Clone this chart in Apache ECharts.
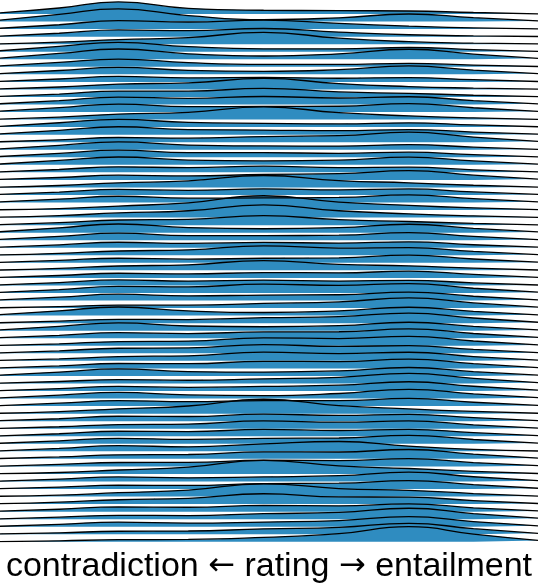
<!DOCTYPE html>
<html>
<head>
<meta charset="utf-8">
<script src="https://cdn.jsdelivr.net/npm/echarts@6/dist/echarts.min.js"></script>
<style>
html,body{margin:0;padding:0;background:#fff;}
#chart{width:538px;height:586px;}
</style>
</head>
<body>
<div id="chart"></div>
<script>
// rating positions (0 = contradiction, 100 = entailment) at which each density is read
const ratingGrid = [0, 11, 22, 35, 49, 63, 76, 88, 100];

// density heights per item (top row first), in units of row spacing
const ridgeDensities = [
  [0.15,0.80,1.60,0.75,0.50,0.45,0.40,0.20,0.03],
  [0.18,0.96,1.67,0.79,0.26,0.50,1.00,0.51,0.09],
  [0.11,0.58,1.12,0.94,1.20,0.75,0.40,0.15,0.03],
  [0.08,0.45,0.89,0.79,1.08,0.60,0.25,0.09,0.02],
  [0.05,0.26,0.61,0.86,1.57,0.79,0.33,0.14,0.03],
  [0.13,0.70,1.25,0.67,0.39,0.38,0.56,0.29,0.05],
  [0.14,0.77,1.36,0.72,0.43,0.72,1.33,0.68,0.12],
  [0.11,0.58,1.02,0.55,0.32,0.31,0.45,0.23,0.04],
  [0.10,0.51,0.92,0.53,0.40,0.62,1.11,0.57,0.10],
  [0.07,0.38,0.72,0.53,0.60,0.48,0.57,0.29,0.05],
  [0.06,0.32,0.71,0.86,1.46,0.77,0.38,0.17,0.03],
  [0.07,0.38,0.78,0.77,1.14,0.67,0.48,0.23,0.04],
  [0.10,0.51,0.99,0.82,1.06,0.86,1.03,0.51,0.09],
  [0.11,0.58,1.06,0.72,0.74,0.77,1.12,0.57,0.10],
  [0.06,0.32,0.73,0.96,1.69,0.91,0.50,0.23,0.04],
  [0.11,0.58,1.04,0.62,0.50,0.43,0.57,0.29,0.05],
  [0.11,0.58,1.05,0.67,0.61,0.53,0.68,0.34,0.06],
  [0.06,0.32,0.62,0.53,0.75,0.86,1.34,0.68,0.12],
  [0.11,0.58,1.04,0.62,0.50,0.48,0.68,0.34,0.06],
  [0.10,0.51,0.94,0.62,0.61,0.53,0.68,0.34,0.06],
  [0.11,0.58,1.04,0.62,0.51,0.62,1.01,0.51,0.09],
  [0.07,0.38,0.74,0.62,0.82,0.62,0.69,0.34,0.06],
  [0.06,0.32,0.62,0.53,0.72,0.82,1.23,0.63,0.11],
  [0.05,0.26,0.61,0.86,1.58,0.91,0.61,0.29,0.05],
  [0.07,0.38,0.74,0.62,0.82,0.67,0.80,0.40,0.07],
  [0.08,0.45,0.83,0.58,0.61,0.67,1.01,0.51,0.09],
  [0.04,0.19,0.53,0.96,1.90,1.06,0.62,0.29,0.05],
  [0.05,0.26,0.62,0.91,1.68,0.91,0.50,0.23,0.04],
  [0.06,0.32,0.68,0.77,1.25,0.72,0.48,0.23,0.04],
  [0.12,0.64,1.15,0.67,0.52,0.67,1.12,0.57,0.10],
  [0.10,0.51,0.94,0.62,0.62,0.67,1.01,0.51,0.09],
  [0.07,0.38,0.73,0.58,0.71,0.62,0.79,0.40,0.07],
  [0.05,0.26,0.57,0.72,1.26,0.96,1.03,0.51,0.09],
  [0.06,0.32,0.61,0.48,0.61,0.67,1.01,0.51,0.09],
  [0.05,0.26,0.58,0.74,1.30,0.79,0.60,0.29,0.05],
  [0.06,0.32,0.62,0.53,0.71,0.67,0.90,0.46,0.08],
  [0.07,0.38,0.73,0.58,0.71,0.58,0.68,0.34,0.06],
  [0.08,0.45,0.89,0.82,1.17,1.01,1.25,0.63,0.11],
  [0.08,0.45,0.84,0.62,0.73,0.77,1.12,0.57,0.10],
  [0.04,0.19,0.39,0.38,0.61,0.82,1.34,0.68,0.12],
  [0.12,0.64,1.14,0.62,0.41,0.62,1.11,0.57,0.10],
  [0.05,0.26,0.51,0.48,0.72,0.86,1.34,0.68,0.12],
  [0.11,0.58,1.04,0.62,0.52,0.67,1.12,0.57,0.10],
  [0.07,0.38,0.74,0.62,0.84,0.86,1.24,0.63,0.11],
  [0.05,0.26,0.55,0.62,1.05,0.96,1.25,0.63,0.11],
  [0.06,0.32,0.67,0.72,1.16,0.91,1.03,0.51,0.09],
  [0.05,0.26,0.56,0.67,1.16,0.96,1.14,0.57,0.10],
  [0.06,0.32,0.65,0.62,0.94,0.91,1.24,0.63,0.11],
  [0.10,0.51,0.93,0.58,0.51,0.67,1.12,0.57,0.10],
  [0.05,0.26,0.50,0.43,0.61,0.82,1.34,0.68,0.12],
  [0.06,0.32,0.61,0.48,0.61,0.77,1.23,0.63,0.11],
  [0.08,0.45,0.81,0.48,0.40,0.67,1.22,0.63,0.11],
  [0.07,0.38,0.73,0.58,0.72,0.72,1.01,0.51,0.09],
  [0.05,0.26,0.64,1.01,1.91,1.06,0.62,0.29,0.05],
  [0.06,0.32,0.65,0.62,0.93,0.77,0.91,0.46,0.08],
  [0.05,0.26,0.55,0.62,1.04,0.86,1.03,0.51,0.09],
  [0.06,0.33,0.66,0.61,0.91,0.76,0.92,0.47,0.08],
  [0.07,0.38,0.73,0.58,0.72,0.77,1.12,0.57,0.10],
  [0.07,0.38,0.75,0.60,1.00,1.30,0.70,0.26,0.04],
  [0.05,0.26,0.54,0.58,0.94,0.91,1.24,0.63,0.11],
  [0.05,0.26,0.52,0.53,0.82,0.77,1.02,0.51,0.09],
  [0.04,0.19,0.52,0.91,1.80,1.06,0.72,0.34,0.06],
  [0.06,0.32,0.61,0.48,0.61,0.77,1.23,0.63,0.11],
  [0.05,0.26,0.51,0.48,0.72,0.77,1.12,0.57,0.10],
  [0.04,0.19,0.51,0.86,1.69,1.06,0.83,0.40,0.07],
  [0.05,0.26,0.58,0.77,1.37,0.96,0.93,0.46,0.08],
  [0.06,0.32,0.63,0.58,0.83,0.77,1.02,0.51,0.09],
  [0.05,0.26,0.51,0.48,0.73,0.91,1.45,0.74,0.13],
  [0.06,0.32,0.61,0.48,0.62,0.82,1.34,0.68,0.12],
  [0.04,0.19,0.40,0.43,0.72,0.91,1.45,0.74,0.13],
  [0.02,0.13,0.28,0.31,0.58,1.08,2.00,1.03,0.18]
];

// axis title pieces
const titleLeft = 'contradiction';
const titleMid = 'rating';
const titleRight = 'entailment';
const arrowLeft = '\u2190';
const arrowRight = '\u2192';

const fillColor = '#2F8CC0';
const nRows = ridgeDensities.length;

const series = ridgeDensities.map((dens, i) => {
  const offset = nRows - 1 - i;
  return {
    type: 'line',
    smooth: 0.5,
    symbol: 'none',
    silent: true,
    data: ratingGrid.map((x, j) => [x, offset + dens[j]]),
    lineStyle: { color: '#000', width: 1.3 },
    areaStyle: { color: fillColor, opacity: 1, origin: offset },
    z: 2
  };
});

const chart = echarts.init(document.getElementById('chart'), null, { renderer: 'canvas' });
chart.setOption({
  animation: false,
  backgroundColor: '#fff',
  grid: { left: 0, right: 0, top: 0, bottom: 44.2 },
  xAxis: { type: 'value', min: 0, max: 100, show: false },
  yAxis: { type: 'value', min: 0, max: 71.86, show: false },
  graphic: [{
    type: 'text',
    left: 'center',
    top: 550,
    style: {
      text: '{t|' + titleLeft + ' }{a|' + arrowLeft + '}{t| ' + titleMid + ' }{a|' + arrowRight + '}{t| ' + titleRight + '}',
      rich: {
        t: { fontFamily: '"Liberation Sans", Arial, sans-serif', fontSize: 34, fill: '#000', color: '#000' },
        a: { fontFamily: '"DejaVu Sans", sans-serif', fontSize: 32, fill: '#000', color: '#000' }
      }
    }
  }],
  series: series
});
</script>
</body>
</html>
